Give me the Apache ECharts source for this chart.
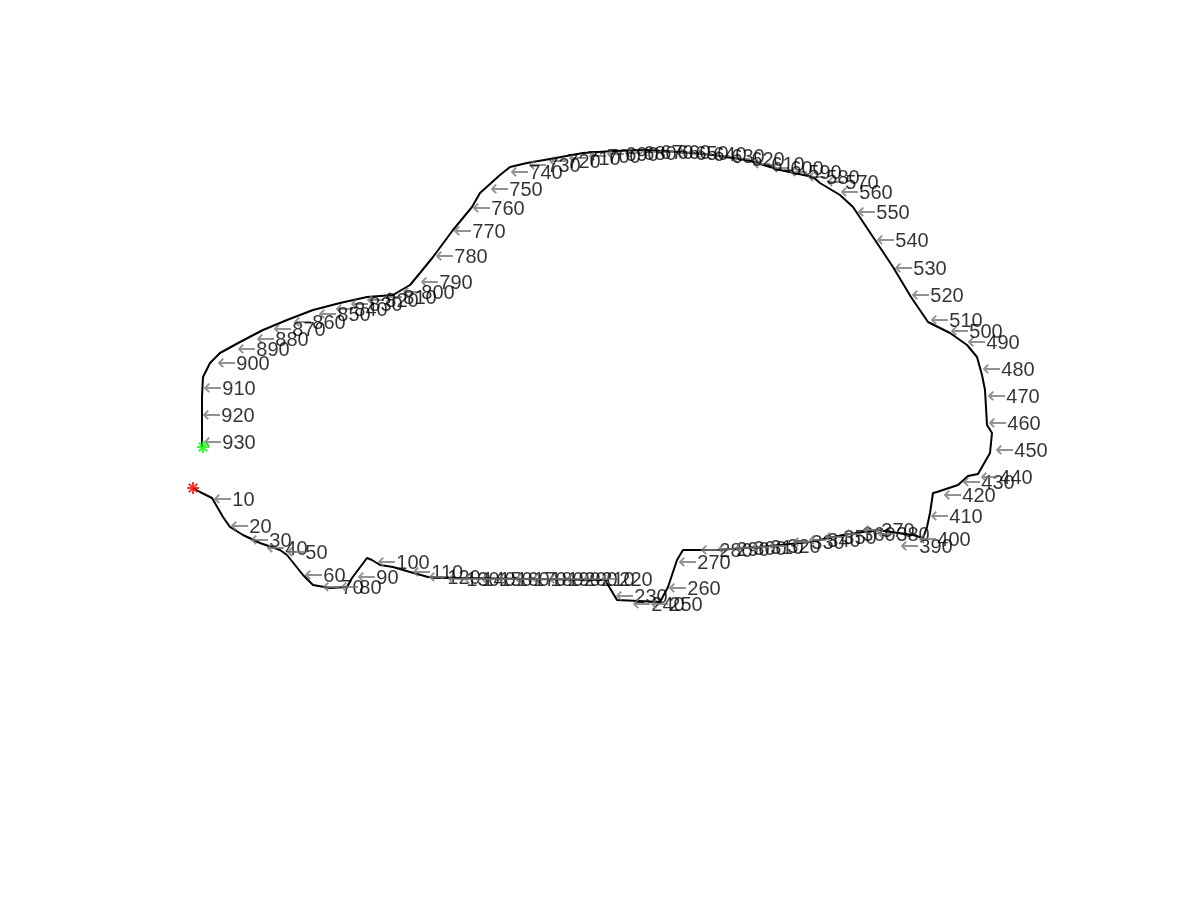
<!DOCTYPE html>
<html>
<head>
<meta charset="utf-8">
<script src="https://cdn.jsdelivr.net/npm/echarts@6/dist/echarts.min.js"></script>
<style>html,body{margin:0;padding:0;background:#fff}#c{width:1200px;height:900px}</style>
</head>
<body>
<div id="c"></div>
<script>
// Track (image-pixel coordinates of the trajectory)
var trackX = [193,200,212,223,230,243,260,280,287,303,313,330,347,352,367,372,380,393,410,428,460,605,617,660,668,677,683,717,760,810,843,877,913,923,927,930,933,937,958,968,978,990,992,987,985,982,977,967,950,940,928,911,893,875,853,840,820,813,780,747,713,680,647,613,583,550,527,510,500,480,472,453,433,420,410,393,367,340,313,287,263,240,220,210,203,202,202];
var trackY = [488,492,498,517,527,535,543,550,555,575,585,588,587,578,558,560,565,567,572,577,578,580,600,602,587,560,550,550,547,542,535,530,535,538,527,513,493,492,485,476,474,453,433,425,390,375,357,345,333,328,322,297,267,240,207,195,183,177,170,160,155,152,150,151,153,159,163,167,175,193,207,230,257,273,285,295,297,303,310,320,330,342,353,363,377,397,447];

// Sample-index labels (every 10 samples) and where they sit
var labelText = [10,20,30,40,50,60,70,80,90,100,110,120,130,140,150,160,170,180,190,200,210,220,230,240,250,260,270,280,290,300,310,320,330,340,350,360,370,380,390,400,410,420,430,440,450,460,470,480,490,500,510,520,530,540,550,560,570,580,590,600,610,620,630,640,650,660,670,680,690,700,710,720,730,740,750,760,770,780,790,800,810,820,830,840,850,860,870,880,890,900,910,920,930];
var labelX = [213,230,250,266,286,304,322,340,357,377,412,428,447,463,480,497,514,531,548,565,582,600,615,632,650,668,678,700,717,734,751,768,792,808,824,843,862,877,900,918,930,943,962,980,995,988,987,982,967,950,930,911,894,876,857,840,826,807,789,771,752,732,712,694,676,658,641,624,606,588,568,548,528,510,490,472,453,435,420,402,384,366,350,335,318,293,273,256,237,217,203,202,203];
var labelY = [500,527,541,549,553,576,588,588,578,563,573,578,580,580,580,580,580,580,580,580,580,580,597,605,605,589,563,551,550,549,548,547,543,541,538,535,531,535,547,540,517,496,483,478,451,424,397,370,343,332,321,296,269,241,213,193,183,178,173,169,165,160,157,155,154,153,153,154,155,157,159,162,166,173,190,209,232,257,283,293,298,301,305,310,315,323,330,340,350,364,389,416,443];

var startPt = [193,488];
var endPt = [203,447];

var track = trackX.map(function(x,i){return [x, trackY[i]];});
var labels = labelX.map(function(x,i){return {value:[x, labelY[i]], name:String(labelText[i])};});

var star = 'path://M-1,-6L1,-6L1,6L-1,6Z M-6,-1L6,-1L6,1L-6,1Z M-4.9,-3.5L-3.5,-4.9L4.9,3.5L3.5,4.9Z M3.5,-4.9L4.9,-3.5L-3.5,4.9L-4.9,3.5Z';

var chart = echarts.init(document.getElementById('c'), null, {renderer:'canvas'});
chart.setOption({
  animation:false,
  backgroundColor:'#ffffff',
  grid:{left:0,right:0,top:0,bottom:0},
  xAxis:{type:'value',min:0,max:1200,show:false},
  yAxis:{type:'value',min:0,max:900,inverse:true,show:false},
  series:[
    {type:'line',data:track,showSymbol:false,symbol:'none',lineStyle:{color:'#000',width:2},z:2},
    {type:'scatter',data:labels,symbolSize:0,z:3,
     label:{show:true,position:[0,0],align:'left',verticalAlign:'middle',color:'#000',textBorderWidth:0,
       formatter:function(p){return '{a|←}{b|'+p.name+'}';},
       rich:{a:{fontFamily:'DejaVu Sans',fontSize:23,color:'#777',height:22,verticalAlign:'middle',textBorderWidth:0},
             b:{fontFamily:'Liberation Sans',fontSize:20,color:'#000',height:22,verticalAlign:'middle',textBorderWidth:0}}}},
    {type:'scatter',data:[startPt],symbol:star,symbolSize:12,itemStyle:{color:'#ff0000'},z:4},
    {type:'scatter',data:[endPt],symbol:star,symbolSize:12,itemStyle:{color:'#00ff00'},z:4}
  ]
});
</script>
</body>
</html>
